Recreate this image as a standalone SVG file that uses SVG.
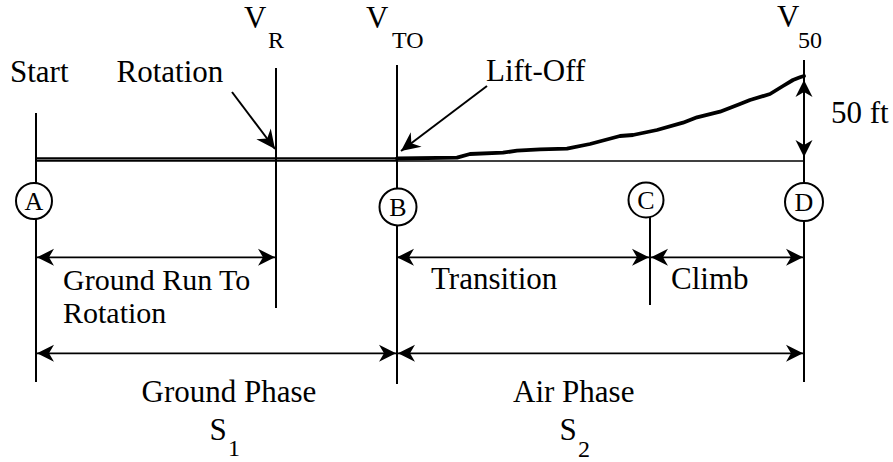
<svg xmlns="http://www.w3.org/2000/svg" width="893" height="462" viewBox="0 0 893 462" font-family="'Liberation Serif', 'Times New Roman', Times, 'DejaVu Serif', serif">
<style>
text{font-family:"Liberation Serif","Times New Roman",Times,"DejaVu Serif",serif;fill:#000}
.t{font-size:31px}
.s{font-size:24px}
.c{font-size:26px;text-anchor:middle}
.v{stroke:#000;stroke-width:2;fill:none}
.a{stroke:#000;stroke-width:1.8;fill:none;marker-start:url(#ah);marker-end:url(#ah)}
.circ{fill:#fff;stroke:#000;stroke-width:2}
</style>
<defs>
<marker id="ah" viewBox="-18 -9 20 18" refX="0" refY="0" markerWidth="20" markerHeight="18" markerUnits="userSpaceOnUse" orient="auto-start-reverse">
<path d="M0,0 L-17,-8.5 L-12,0 L-17,8.5 Z" fill="#000"/>
</marker>
<marker id="ah2" viewBox="-20 -10 22 20" refX="0" refY="0" markerWidth="22" markerHeight="20" markerUnits="userSpaceOnUse" orient="auto">
<path d="M0,0 L-19,-9 L-13,0 L-19,9 Z" fill="#000"/>
</marker>
</defs>
<rect width="893" height="462" fill="#fff"/>

<g id="ground-line">
<line x1="36" y1="159.5" x2="397" y2="159.5" stroke="#000" stroke-width="4.5"/>
<line x1="36" y1="159.5" x2="397" y2="159.5" stroke="#888" stroke-width="0.8"/>
<line x1="397" y1="161" x2="804" y2="161" stroke="#000" stroke-width="1.6"/>
</g>

<g id="flight-path">
<path d="M397,158.5 L457,157.7 L470,154 L503,152.7 L517,150.7 L540,149.3 L567,148.7 L590,144 L620,136 L633,135 L657,130 L683,122.7 L697,117.3 L720,111.7 L740,104 L750,100 L770,94 L783,86 L793,80 L800,77.3 L804,76" fill="none" stroke="#000" stroke-width="3.8" stroke-linejoin="round" stroke-linecap="round"/>
</g>

<g id="node-A">
<line class="v" x1="36" y1="113" x2="36" y2="183"/>
<line class="v" x1="36" y1="219" x2="36" y2="382"/>
<circle class="circ" cx="34" cy="201" r="18"/>
<text class="c" x="34" y="210">A</text>
<text class="t" x="10" y="82">Start</text>
</g>

<g id="node-VR">
<line class="v" x1="276" y1="68" x2="276" y2="308"/>
<text class="t" x="244" y="28">V</text>
<text class="s" x="268" y="48">R</text>
<text class="t" x="116.5" y="82">Rotation</text>
</g>

<g id="node-B">
<line class="v" x1="397" y1="65" x2="397" y2="188"/>
<line class="v" x1="397" y1="226" x2="397" y2="384"/>
<circle class="circ" cx="398" cy="207" r="18.5"/>
<text class="c" x="398" y="216">B</text>
<text class="t" x="366" y="28">V</text>
<text class="s" x="392" y="48">TO</text>
<text class="t" x="486" y="81">Lift-Off</text>
</g>

<g id="node-C">
<line class="v" x1="650" y1="217" x2="650" y2="305"/>
<circle class="circ" cx="646" cy="200" r="17.5"/>
<text class="c" x="646" y="209">C</text>
</g>

<g id="node-D">
<line class="v" x1="804" y1="60" x2="804" y2="183"/>
<line class="v" x1="804" y1="221" x2="804" y2="382"/>
<circle class="circ" cx="804" cy="202" r="19"/>
<text class="c" x="804" y="211">D</text>
<text class="t" x="777" y="27">V</text>
<text class="s" x="798" y="48">50</text>
<text class="t" x="831" y="123">50 ft</text>
</g>

<g id="connectors">
<line x1="232" y1="92" x2="275" y2="149" stroke="#000" stroke-width="2" marker-end="url(#ah2)"/>
<line x1="487" y1="86" x2="401" y2="151" stroke="#000" stroke-width="2" marker-end="url(#ah2)"/>
<line class="a" x1="804" y1="80" x2="804" y2="157"/>
<line class="a" x1="37" y1="257.3" x2="275" y2="257.3"/>
<line class="a" x1="397" y1="257.3" x2="649" y2="257.3"/>
<line class="a" x1="651" y1="257.3" x2="803" y2="257.3"/>
<line class="a" x1="37" y1="353.3" x2="396" y2="353.3"/>
<line class="a" x1="398" y1="353.3" x2="803" y2="353.3"/>
</g>

<g id="labels">
<text style="font-size:30px"><tspan x="63" y="289.5">Ground Run To</tspan><tspan x="63" y="323">Rotation</tspan></text>
<text class="t" x="431" y="289">Transition</text>
<text class="t" x="671" y="289">Climb</text>
<text class="t" x="141.5" y="401.7">Ground Phase</text>
<text class="t" x="513" y="401.7">Air Phase</text>
<text class="t" x="209.5" y="440">S</text>
<text class="s" x="228" y="456">1</text>
<text class="t" x="559.5" y="440">S</text>
<text class="s" x="578" y="457">2</text>
</g>
</svg>
